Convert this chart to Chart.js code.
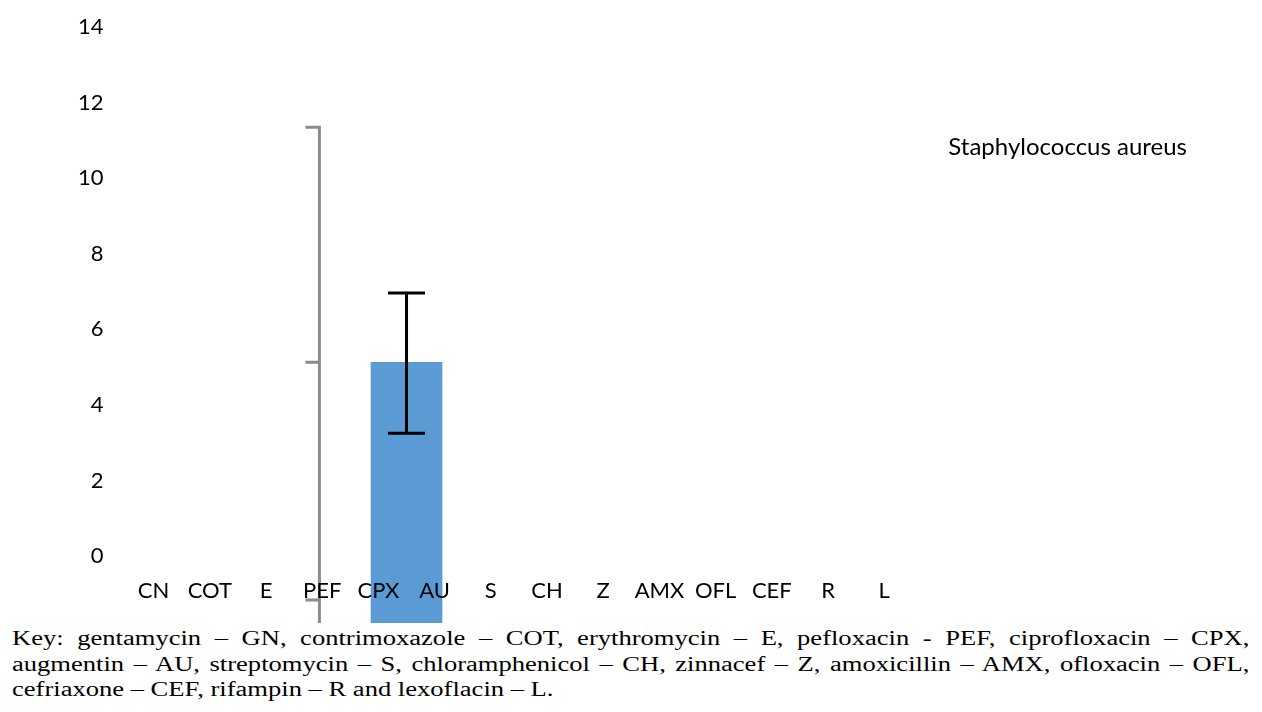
<!DOCTYPE html>
<html>
<head>
<meta charset="utf-8">
<script src="https://cdn.jsdelivr.net/npm/chart.js@4.4.1/dist/chart.umd.min.js"></script>
<style>
    body { margin: 0; background: #ffffff; }
    #contenedor { position: relative; width: 1262px; height: 712px; overflow: hidden; }
    #grafica { position: absolute; left: 0; top: 0; }
    /* el texto de la clave viene estirado a lo ancho en la figura */
    #clave {
        position: absolute; left: 12px; top: 626px; width: 1006px;
        transform: scaleX(1.23); transform-origin: 0 0;
        font-family: "Liberation Serif", "Times New Roman", serif;
        font-size: 21.6px; line-height: 25.5px; color: #000;
    }
    #clave .linea { text-align: justify; text-align-last: justify; white-space: nowrap; }
    #clave .ultima { text-align: left; text-align-last: left; }
</style>
</head>
<body>
<div id="contenedor">
    <canvas id="grafica" width="1262" height="623"></canvas>
    <div id="clave">
        <div class="linea">Key: gentamycin – GN, contrimoxazole – COT, erythromycin – E, pefloxacin - PEF, ciprofloxacin – CPX,</div>
        <div class="linea">augmentin – AU, streptomycin – S, chloramphenicol – CH, zinnacef – Z, amoxicillin – AMX, ofloxacin – OFL,</div>
        <div class="linea ultima">cefriaxone – CEF, rifampin – R and lexoflacin – L.</div>
    </div>
</div>
<script>
// Datos
const categorias = ["CN", "COT", "E", "PEF", "CPX", "AU", "S", "CH", "Z", "AMX", "OFL", "CEF", "R", "L"];
const nombreSerie = "Staphylococcus aureus";
const posicionBarra = [4.5];      // la barra cae entre CPX y AU
const valoresBarra = [5.13];
const errorSuperior = [6.96];
const errorInferior = [3.25];
// barra de error gris suelta (cerca de PEF)
const grisPosicion = 2.95;
const grisValores = [11.35, 5.13, -1.16];
const minY = -1.77;
const maxY = 14;
const pasoY = 2;

// Dibuja las barras de error con las escalas de la gráfica
const pluginErrores = {
    id: "errores",
    afterDatasetsDraw(chart) {
        const { ctx, chartArea } = chart;
        const x = chart.scales.x;
        const y = chart.scales.y;
        ctx.save();
        ctx.lineCap = "butt";

        // gris
        const gx = x.getPixelForValue(grisPosicion);
        ctx.strokeStyle = "#8c8c8c";
        ctx.lineWidth = 3;
        ctx.beginPath();
        ctx.moveTo(gx, y.getPixelForValue(grisValores[0]));
        ctx.lineTo(gx, chartArea.bottom);
        grisValores.forEach(function (v) {
            const py = y.getPixelForValue(v);
            ctx.moveTo(gx + 1.5, py);
            ctx.lineTo(gx - 14, py);
        });
        ctx.stroke();

        // negra
        ctx.strokeStyle = "#000000";
        ctx.lineWidth = 3;
        posicionBarra.forEach(function (p, i) {
            const bx = x.getPixelForValue(p);
            const top = y.getPixelForValue(errorSuperior[i]);
            const bot = y.getPixelForValue(errorInferior[i]);
            ctx.beginPath();
            ctx.moveTo(bx, top);
            ctx.lineTo(bx, bot);
            ctx.moveTo(bx - 18.5, top);
            ctx.lineTo(bx + 18.5, top);
            ctx.moveTo(bx - 18.5, bot);
            ctx.lineTo(bx + 18.5, bot);
            ctx.stroke();
        });
        ctx.restore();
    },
};

const fuente = "Lato, 'Open Sans', sans-serif";

new Chart(document.getElementById("grafica").getContext("2d"), {
    type: "bar",
    data: {
        labels: categorias,
        datasets: [
            {
                label: nombreSerie,
                data: posicionBarra.map((p, i) => ({ x: p, y: valoresBarra[i] })),
                xAxisID: "x2",
                base: minY,
                backgroundColor: "#5b9bd5",
                borderWidth: 0,
                barThickness: 71,
            },
        ],
    },
    options: {
        responsive: false,
        animation: false,
        layout: { padding: { left: 56, right: 65, top: 27, bottom: 0 } },
        plugins: {
            tooltip: { enabled: false },
            legend: {
                position: "right",
                align: "start",
                title: { display: true, text: "", font: { size: 10 }, padding: { top: 72, bottom: 0 } },
                labels: {
                    boxWidth: 0,
                    boxHeight: 0,
                    padding: 24,
                    color: "#000000",
                    font: { family: fuente, size: 24 },
                },
            },
        },
        scales: {
            x: {
                type: "category",
                offset: true,
                position: { y: -0.58 },
                grid: { display: false, drawTicks: false },
                border: { display: false },
                ticks: { z: 1, color: "#000000", font: { family: fuente, size: 22 }, padding: 0, maxRotation: 0, autoSkip: false },
            },
            x2: {
                type: "linear",
                display: false,
                offset: false,
                min: -0.5,
                max: categorias.length - 0.5,
            },
            y: {
                min: minY,
                max: maxY,
                grid: { display: false, drawTicks: false },
                border: { display: false },
                ticks: { stepSize: pasoY, color: "#000000", font: { family: fuente, size: 22 }, padding: 22 },
                afterBuildTicks: function (scale) {
                    scale.ticks = scale.ticks.filter((t) => t.value >= 0);
                },
                afterFit: function (scale) {
                    // el área del gráfico llega hasta el borde de abajo
                    scale.paddingTop = 0;
                    scale.paddingBottom = 0;
                },
            },
        },
    },
    plugins: [pluginErrores],
});
</script>
</body>
</html>
